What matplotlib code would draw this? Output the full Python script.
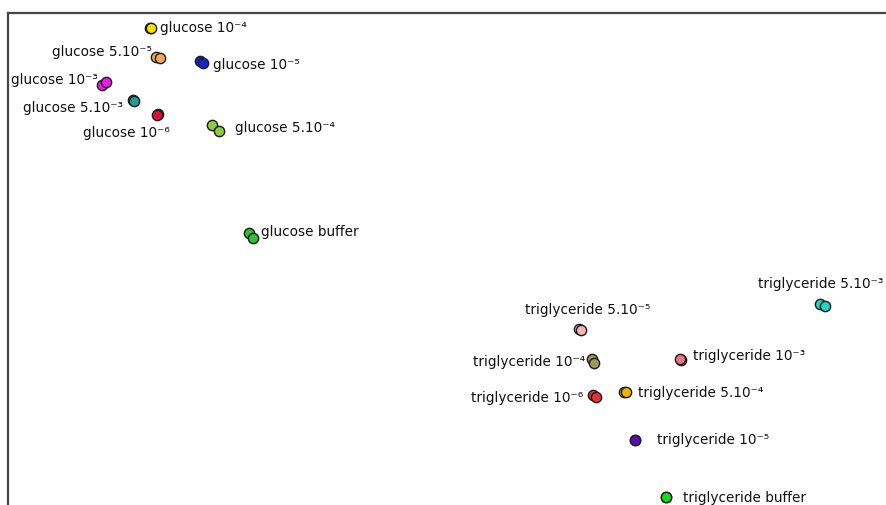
import matplotlib
matplotlib.use("Agg")
import matplotlib.pyplot as plt

# Sample names (two replicate measurements per sample)
labels = [
    "glucose 10⁻⁴", "glucose 5.10⁻⁵", "glucose 10⁻⁵",
    "glucose 10⁻³", "glucose 5.10⁻³", "glucose 10⁻⁶",
    "glucose 5.10⁻⁴", "glucose buffer",
    "triglyceride 5.10⁻³", "triglyceride 5.10⁻⁵",
    "triglyceride 10⁻⁴", "triglyceride 10⁻³",
    "triglyceride 10⁻⁶", "triglyceride 5.10⁻⁴",
    "triglyceride 10⁻⁵", "triglyceride buffer",
]

# Map coordinates, replicate 1 and replicate 2
rep1_x = [150, 156, 200, 102, 133, 158, 212, 249, 820, 579, 592, 681, 593, 624, 635, 666]
rep1_y = [29, 58, 62, 86, 101, 115, 126, 234, 305, 330, 360, 361, 396, 393, 441, 498]
rep2_x = [151, 160, 203, 106, 134, 157, 219, 253, 825, 581, 594, 680, 596, 626, 635, 666]
rep2_y = [29, 59, 64, 83, 102, 116, 132, 239, 307, 331, 364, 360, 398, 393, 441, 498]

colors = [
    "#f2e200", "#f4a85e", "#1626cc", "#e81ee6", "#1e9c9c", "#e0103a",
    "#8ccc44", "#2ec02e",
    "#22d2c2", "#f6b4b4", "#9a9a5e", "#f07282", "#e03434", "#f0b000",
    "#5e0cb0", "#10e010",
]

# Label placement: offset in pixels from replicate 1 and horizontal alignment
label_dx = [10, -4, 13, -4, -10, 12, 23, 12, 1, 9, -7, 12, -10, 14, 22, 17]
label_dy = [1, 6, -3, 6, -7, -18, -2, 2, 21, 20, -2, 5, -2, 0, 1, 0]
label_ha = ["left", "right", "left", "right", "right", "right", "left", "left",
            "center", "center", "right", "left", "right", "left", "left", "left"]

W, H = 887, 506
fig = plt.figure(figsize=(W / 100, H / 100), dpi=100)
ax = fig.add_axes([8 / W, 0, 1 - 8 / W, 1 - 14 / H])
ax.set_xlim(8, W)
ax.set_ylim(H, 14)

for i in range(len(labels)):
    for xs, ys in ((rep1_x, rep1_y), (rep2_x, rep2_y)):
        ax.plot(xs[i], ys[i], marker="o", markersize=7.4, color=colors[i],
                markeredgecolor="#1a1a1a", markeredgewidth=1.0, linestyle="none",
                clip_on=False)
    ax.annotate(labels[i], (rep1_x[i], rep1_y[i]), xytext=(label_dx[i], label_dy[i]),
                textcoords="offset pixels", ha=label_ha[i], va="center",
                fontsize=9.8, color="#111111", family="DejaVu Sans")

ax.set_xticks([])
ax.set_yticks([])
for side in ("right", "bottom"):
    ax.spines[side].set_visible(False)
for side in ("left", "top"):
    ax.spines[side].set_color("#474747")
    ax.spines[side].set_linewidth(1.6)

fig.savefig("out.png", dpi=100)
